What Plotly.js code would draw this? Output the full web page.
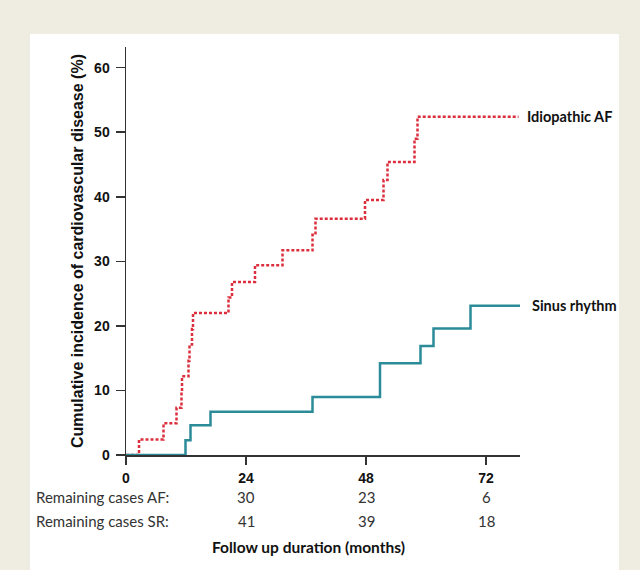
<!DOCTYPE html>
<html>
<head>
<meta charset="utf-8">
<script src="https://cdn.plot.ly/plotly-3.0.1.min.js"></script>
<style>
  html, body { margin: 0; padding: 0; width: 640px; height: 570px; overflow: hidden; background: #efece2; }
  #panel { position: absolute; left: 30px; top: 34px; width: 589px; height: 536px; background: #ffffff; }
  #chart { position: absolute; left: 0; top: 0; width: 640px; height: 570px; }
</style>
</head>
<body>
<div id="panel"></div>
<div id="chart"></div>
<script>
// Idiopathic AF cumulative incidence (step function)
const afMonths = [0, 2.6, 7.5, 10.1, 11.1, 11.2, 12.5, 12.7, 13.2, 13.4, 20.5, 21.2, 25.8, 31.3, 37.3, 37.9, 47.8, 51.5, 52.3, 57.7, 58.3, 78.5];
const afIncidence = [0, 2.4, 4.9, 7.3, 9.8, 12.2, 14.6, 17.1, 19.5, 22.0, 24.4, 26.8, 29.4, 31.7, 34.1, 36.6, 39.5, 42.6, 45.4, 49.0, 52.4, 52.4];

// Sinus rhythm cumulative incidence (step function)
const srMonths = [0, 11.9, 12.9, 16.9, 37.3, 50.8, 58.9, 61.5, 68.9, 78.8];
const srIncidence = [0, 2.3, 4.6, 6.7, 9.0, 14.2, 16.9, 19.6, 23.1, 23.1];

// Axis ticks
const xTicks = [0, 24, 48, 72];
const yTicks = [0, 10, 20, 30, 40, 50, 60];

// Number at risk table
const riskMonths = [24, 48, 72];
const remainingAF = [30, 23, 6];
const remainingSR = [41, 39, 18];

const seriesNames = ['Idiopathic AF', 'Sinus rhythm'];

const xMax = 78.8;
const yMax = 63.2;

const redColor = '#dc2f3d';
const tealColor = '#2b8b98';
const tableFont = { family: 'Lato, "Open Sans", sans-serif', size: 15, color: '#333333' };
const labelFont = { family: 'Lato, "Open Sans", sans-serif', size: 14.5, color: '#111111' };
const titleFont = { family: 'Lato, "Open Sans", sans-serif', size: 15.5, color: '#111111' };

const traces = [
  {
    x: afMonths, y: afIncidence, type: 'scatter', mode: 'lines', name: seriesNames[0],
    line: { shape: 'hv', color: redColor, width: 2.5, dash: '3px,2px' }, cliponaxis: false
  },
  {
    x: srMonths, y: srIncidence, type: 'scatter', mode: 'lines', name: seriesNames[1],
    line: { shape: 'hv', color: tealColor, width: 2.5 }, cliponaxis: false
  }
];

const annotations = [];
// end-of-line labels (placed in paper units derived from the data end points)
annotations.push({
  x: (afMonths[afMonths.length - 1] + 1.3) / xMax, y: afIncidence[afIncidence.length - 1] / yMax,
  xref: 'paper', yref: 'paper', text: '<b>' + seriesNames[0] + '</b>', showarrow: false,
  xanchor: 'left', yanchor: 'middle', font: labelFont
});
annotations.push({
  x: (srMonths[srMonths.length - 1] + 1.9) / xMax, y: srIncidence[srIncidence.length - 1] / yMax,
  xref: 'paper', yref: 'paper', text: '<b>' + seriesNames[1] + '</b>', showarrow: false,
  xanchor: 'left', yanchor: 'middle', font: labelFont
});
// table row labels
annotations.push({
  x: -0.2335, y: -0.102, xref: 'paper', yref: 'paper', text: 'Remaining cases AF:',
  showarrow: false, xanchor: 'left', yanchor: 'middle', font: tableFont
});
annotations.push({
  x: -0.2335, y: -0.162, xref: 'paper', yref: 'paper', text: 'Remaining cases SR:',
  showarrow: false, xanchor: 'left', yanchor: 'middle', font: tableFont
});
riskMonths.forEach((m, i) => {
  annotations.push({
    x: m, y: -0.102, xref: 'x', yref: 'paper', text: String(remainingAF[i]),
    showarrow: false, xanchor: 'center', yanchor: 'middle', font: tableFont
  });
  annotations.push({
    x: m, y: -0.162, xref: 'x', yref: 'paper', text: String(remainingSR[i]),
    showarrow: false, xanchor: 'center', yanchor: 'middle', font: tableFont
  });
});
// x axis title (placed below the table)
annotations.push({
  x: 0.462, y: -0.2255, xref: 'paper', yref: 'paper', text: '<b>Follow up duration (months)</b>',
  showarrow: false, xanchor: 'center', yanchor: 'middle', font: titleFont
});

const tickFont = { family: '"Liberation Sans", Arial, sans-serif', size: 14, color: '#111111', weight: 'bold' };

const layout = {
  width: 640, height: 570,
  margin: { l: 126, r: 120, t: 47, b: 115, pad: 0 },
  paper_bgcolor: 'rgba(0,0,0,0)',
  plot_bgcolor: 'rgba(0,0,0,0)',
  showlegend: false,
  xaxis: {
    range: [0, xMax], tickvals: xTicks, ticktext: xTicks.map(String),
    showgrid: false, zeroline: false, showline: true, linecolor: '#333333', linewidth: 1.5,
    ticks: 'outside', ticklen: 8, tickwidth: 1.5, tickcolor: '#333333',
    tickfont: tickFont, ticklabelstandoff: 2, fixedrange: true
  },
  yaxis: {
    range: [0, yMax], tickvals: yTicks, ticktext: yTicks.map(String),
    showgrid: false, zeroline: false, showline: true, linecolor: '#333333', linewidth: 1.5,
    ticks: 'outside', ticklen: 9, tickwidth: 1.5, tickcolor: '#333333',
    tickfont: tickFont, ticklabelstandoff: 3, fixedrange: true,
    title: {
      text: '<b>Cumulative incidence of cardiovascular disease (%)</b>',
      font: { family: '"Liberation Sans", Arial, sans-serif', size: 16, color: '#111111' },
      standoff: 6
    },
    automargin: false
  },
  annotations: annotations
};

Plotly.newPlot('chart', traces, layout, { staticPlot: true, displayModeBar: false });
</script>
</body>
</html>
